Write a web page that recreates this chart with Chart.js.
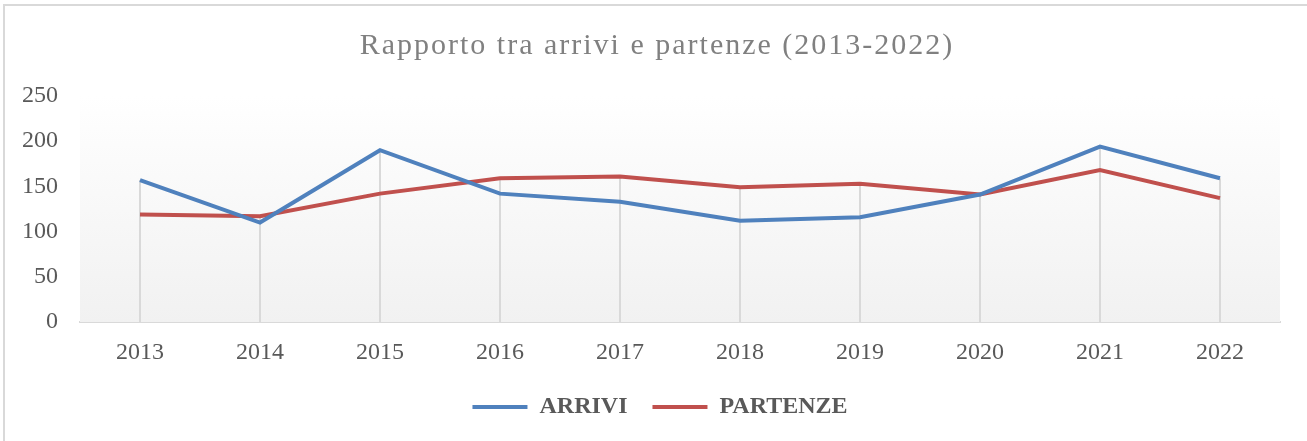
<!DOCTYPE html>
<html>
<head>
<meta charset="utf-8">
<script src="https://cdn.jsdelivr.net/npm/chart.js@4"></script>
<style>
  body { margin: 0; background: #fff; }
  #wrap { position: relative; width: 1307px; height: 441px; }
  #frame { position: absolute; left: 3px; top: 4px; right: -10px; bottom: -10px;
           border-left: 2px solid #d9d9d9; border-top: 2px solid #d9d9d9; pointer-events: none; }
</style>
</head>
<body>
<div id="wrap">
  <canvas id="chart" width="1307" height="441"></canvas>
  <div id="frame"></div>
</div>
<script>
const years = ["2013", "2014", "2015", "2016", "2017", "2018", "2019", "2020", "2021", "2022"];
const arrivi = [157, 110, 190, 142, 133, 112, 116, 141, 194, 159];
const partenze = [119, 117, 142, 159, 161, 149, 153, 141, 168, 137];
const yTicks = [0, 50, 100, 150, 200, 250];
const chartTitle = "Rapporto tra arrivi e partenze (2013-2022)";

const serif = "'Liberation Serif', 'DejaVu Serif', serif";

// plot area fill + drop lines from the highest point to the axis, title on top
const plotDecor = {
  id: "plotDecor",
  afterLayout(chart) {
    // legend in the original sits a little right of the plot centre
    chart.legend.left += 20;
    chart.legend.right += 20;
  },
  beforeDatasetsDraw(chart) {
    const { ctx, chartArea: a, scales } = chart;
    const g = ctx.createLinearGradient(0, a.top, 0, a.bottom);
    g.addColorStop(0, "#ffffff");
    g.addColorStop(1, "#f1f1f1");
    ctx.save();
    ctx.fillStyle = g;
    ctx.fillRect(a.left, a.top, a.right - a.left, a.bottom - a.top);
    ctx.strokeStyle = "#d9d9d9";
    ctx.lineWidth = 2;
    years.forEach((yr, i) => {
      const x = scales.x.getPixelForValue(i);
      const top = scales.y.getPixelForValue(Math.max(arrivi[i], partenze[i]));
      ctx.beginPath();
      ctx.moveTo(x, scales.y.getPixelForValue(0));
      ctx.lineTo(x, top);
      ctx.stroke();
    });
    ctx.restore();
  },
  afterDraw(chart) {
    const ctx = chart.ctx;
    ctx.save();
    ctx.font = "30px " + serif;
    ctx.letterSpacing = "2px";
    ctx.fillStyle = "#808080";
    ctx.textAlign = "center";
    ctx.textBaseline = "alphabetic";
    ctx.fillText(chartTitle, 657, 54);
    ctx.restore();
  }
};

new Chart(document.getElementById("chart"), {
  type: "line",
  data: {
    labels: years,
    datasets: [
      { label: "ARRIVI", data: arrivi, borderColor: "#4f81bd", backgroundColor: "#4f81bd",
        borderWidth: 4, pointRadius: 0, tension: 0 },
      { label: "PARTENZE", data: partenze, borderColor: "#c0504d", backgroundColor: "#c0504d",
        borderWidth: 4, pointRadius: 0, tension: 0 }
    ]
  },
  options: {
    responsive: false,
    animation: false,
    layout: { padding: { left: 0, right: 27, top: 96, bottom: 12 } },
    plugins: {
      title: { display: false },
      legend: {
        position: "bottom",
        labels: {
          color: "#595959",
          font: { family: serif, size: 24, weight: "bold" },
          boxWidth: 55,
          boxHeight: 4,
          padding: 25,
          generateLabels(chart) {
            return Chart.defaults.plugins.legend.labels.generateLabels(chart)
              .map(l => Object.assign(l, { lineWidth: 0 }));
          }
        }
      },
      tooltip: { enabled: false }
    },
    scales: {
      x: {
        offset: true,
        grid: { display: false },
        border: { display: true, color: "#d9d9d9", width: 2 },
        ticks: { color: "#595959", font: { family: serif, size: 24 }, padding: 8 },
        afterFit(s) { s.height = 48; }
      },
      y: {
        min: 0,
        max: 250,
        afterBuildTicks(s) { s.ticks = yTicks.map(v => ({ value: v })); },
        grid: { display: false },
        border: { display: false },
        ticks: { color: "#595959", font: { family: serif, size: 24 }, padding: 14 },
        afterFit(s) { s.width = 80; }
      }
    }
  },
  plugins: [plotDecor]
});
</script>
</body>
</html>
